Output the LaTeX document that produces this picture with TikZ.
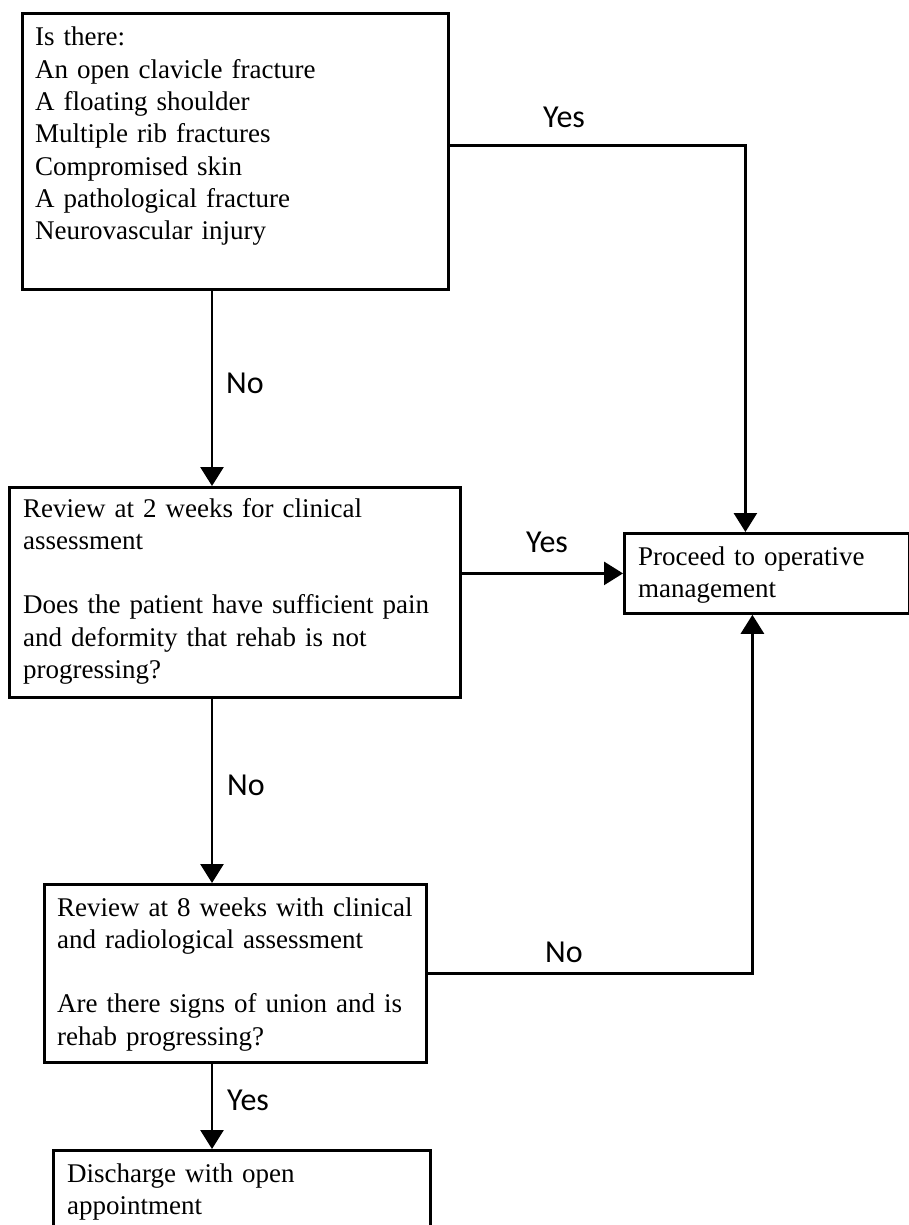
\documentclass[tikz,border=0pt]{standalone}
\usepackage{fontspec}
\setmainfont{Liberation Serif}
\newfontfamily\labfont{Carlito}
\usetikzlibrary{arrows.meta,calc}
\newcommand{\boxfont}{\fontsize{27}{32.3}\selectfont}
\tikzset{
  box/.style={draw=black, line width=2.8pt, rectangle, inner sep=0pt, anchor=north west, fill=none},
  boxtext/.style={anchor=base west, inner sep=0pt, text width=#1, font=\boxfont},
  lab/.style={anchor=base west, inner sep=0pt, font=\labfont\fontsize{32}{36}\selectfont},
  arr/.style={line width=2.8pt, -{Triangle[width=23pt,length=19pt]}},
}
\begin{document}
\begin{tikzpicture}[x=1pt,y=-1pt]
\useasboundingbox (0,0) rectangle (909,1225);
\clip (0,0) rectangle (909,1225);
\fill[white] (0,0) rectangle (909,1225);
% boxes
\node[box, minimum width=426pt, minimum height=276pt] (q1) at (21,12) {};
\node[box, minimum width=451pt, minimum height=210pt] (q2) at (8,486) {};
\node[box, minimum width=285pt, minimum height=80pt] (op) at (623,532) {};
\node[box, minimum width=382pt, minimum height=178pt] (q3) at (43,883) {};
\node[box, minimum width=377pt, minimum height=120pt] (q4) at (52,1149) {};
% texts
\node[boxtext=400pt] (t1) at (35,46) {Is there:\\An open clavicle fracture\\A floating shoulder\\Multiple rib fractures\\Compromised skin\\A pathological fracture\\Neurovascular injury};
\node[boxtext=440pt] (t2) at (23,517) {Review at 2 weeks for clinical\\assessment\\[32.3pt]Does the patient have sufficient pain\\and deformity that rehab is not\\progressing?};
\node[boxtext=270pt] (t3) at (638,565) {Proceed to operative\\management};
\node[boxtext=370pt] (t4) at (57,916) {Review at 8 weeks with clinical\\and radiological assessment\\[32.3pt]Are there signs of union and is\\rehab progressing?};
\node[boxtext=350pt] (t5) at (67,1182) {Discharge with open\\appointment};
% connectors
\coordinate (cx) at (212,0);
\draw[arr] (cx |- q1.south) -- (cx |- q2.north);
\draw[arr] (cx |- q2.south) -- (cx |- q3.north);
\draw[arr] (cx |- q3.south) -- (cx |- q4.north);
\draw[arr] ([yshift=6pt]q1.east) -| ([xshift=-21.5pt]op.north);
\draw[arr] (q2.east |- op.west) -- (op.west);
\draw[arr] (q3.east) -| ([xshift=-14.5pt]op.south);
% labels
\node[lab] (l1) at (543,128) {Yes};
\node[lab] (l2) at (226,393) {No};
\node[lab] (l3) at (526,552) {Yes};
\node[lab] (l4) at (227,795) {No};
\node[lab] (l5) at (545,962) {No};
\node[lab] (l6) at (227,1110) {Yes};
\end{tikzpicture}
\end{document}
